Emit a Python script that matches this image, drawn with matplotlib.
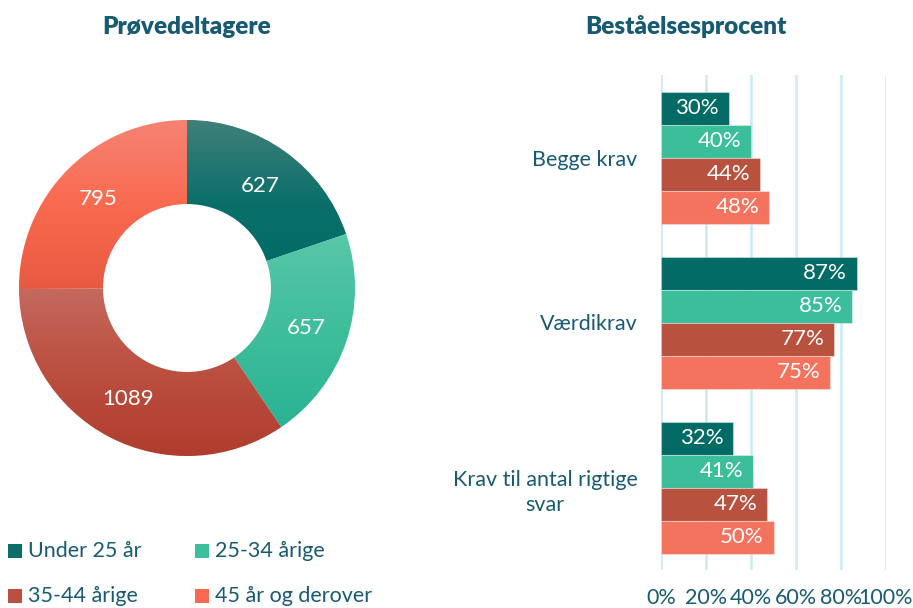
import numpy as np
import matplotlib
matplotlib.use("Agg")
import matplotlib.pyplot as plt
from matplotlib.colors import LinearSegmentedColormap
from matplotlib.patches import Rectangle

plt.rcParams['font.family'] = ['Lato', 'DejaVu Sans']

# ---- data ----
age_groups = ['Under 25 år', '25-34 årige', '35-44 årige', '45 år og derover']
participants = [627, 657, 1089, 795]
requirements = ['Begge krav', 'Værdikrav', 'Krav til antal rigtige\nsvar']
rate_under25 = [30, 87, 32]
rate_25_34 = [40, 85, 41]
rate_35_44 = [44, 77, 47]
rate_45plus = [48, 75, 50]
x_ticks = [0, 20, 40, 60, 80, 100]
x_tick_labels = ['0%', '20%', '40%', '60%', '80%', '100%']

# ---- styles ----
TXT = '#175a72'
grad_stops = [
    ['#417f7a', '#0a6f69', '#006a65'],
    ['#58c7a8', '#3fbe9c', '#2ab394'],
    ['#c5695e', '#bb4f40', '#b03d2e'],
    ['#f58373', '#fa6a50', '#e85941'],
]
bar_colors = ['#026b65', '#3dbe9a', '#b9513f', '#f4735e']

W, H = 913, 608
fig = plt.figure(figsize=(W / 100, H / 100), dpi=100)

# ---- donut ----
cx, cy, R = 187, 288, 168
half = 178
axp = fig.add_axes([(cx - half) / W, (H - cy - half) / H, 2 * half / W, 2 * half / H])
lim = half / R
axp.axis('off')
wedges, _ = axp.pie(participants, radius=1, startangle=90, counterclock=False,
                    colors=[g[1] for g in grad_stops],
                    wedgeprops=dict(width=0.5, edgecolor='white', linewidth=0.6))
grad = np.linspace(0, 1, 256).reshape(-1, 1)
for w, stops, val in zip(wedges, grad_stops, participants):
    v = w.get_path().vertices
    x0, x1 = v[:, 0].min(), v[:, 0].max()
    y0, y1 = v[:, 1].min(), v[:, 1].max()
    cmap = LinearSegmentedColormap.from_list('g', stops)
    im = axp.imshow(grad, cmap=cmap, extent=[x0, x1, y0, y1], origin='upper',
                    aspect='auto', zorder=w.get_zorder() + 0.1, interpolation='bilinear')
    im.set_clip_path(w)
    mid = np.deg2rad((w.theta1 + w.theta2) / 2)
    axp.text(0.75 * np.cos(mid), 0.75 * np.sin(mid), f'{val}', color='white',
             fontsize=16, ha='center', va='center', zorder=5)
axp.set_xlim(-lim, lim)
axp.set_ylim(-lim, lim)

fig.text(187 / W, 1 - 27 / H, 'Prøvedeltagere', ha='center', va='center',
         fontsize=17.5, fontweight='heavy', color=TXT)

# ---- legend ----
leg_pos = [(8, 551), (195, 551), (8, 596), (195, 596)]
for (lx, ly), lab, stops in zip(leg_pos, age_groups, grad_stops):
    fig.patches.append(Rectangle((lx / W, 1 - (ly + 7) / H), 14 / W, 14 / H,
                                 transform=fig.transFigure, facecolor=stops[1],
                                 edgecolor='none'))
    fig.text((lx + 20) / W, 1 - ly / H, lab, ha='left', va='center',
             fontsize=15.5, color=TXT)

# ---- bars ----
axb = fig.add_axes([661 / W, 38 / H, 225 / W, 495 / H])
series = [rate_under25, rate_25_34, rate_35_44, rate_45plus]
n_groups = len(requirements)
pitch = len(series) + 1
group_centers = np.arange(n_groups) * pitch + pitch / 2
for j, (vals, col) in enumerate(zip(series, bar_colors)):
    ys = group_centers - 1.5 + j
    bars = axb.barh(ys, vals, height=1.0, color=col, edgecolor=(1, 1, 1, 0.35),
                    linewidth=0.8, zorder=3)
    for b, v in zip(bars, vals):
        axb.annotate(f'{v}%', (b.get_width(), b.get_y() + b.get_height() / 2),
                     xytext=(-7, 0), textcoords='offset points', ha='right',
                     va='center', color='white', fontsize=16, zorder=4)
axb.set_ylim(n_groups * pitch, 0)
axb.set_xlim(0, 100)
axb.set_xticks(x_ticks)
axb.set_xticklabels(x_tick_labels, fontsize=15.5, color=TXT)
axb.set_yticks(group_centers)
axb.set_yticklabels(requirements, fontsize=15.5, color=TXT, multialignment='center',
                    linespacing=1.35)
axb.tick_params(axis='both', length=0)
axb.tick_params(axis='x', pad=13)
axb.tick_params(axis='y', pad=17)
axb.grid(axis='x', color='#c8ebf8', linewidth=1.8, zorder=0)
axb.set_axisbelow(True)
for s in axb.spines.values():
    s.set_visible(False)

fig.text(686 / W, 1 - 27 / H, 'Beståelsesprocent', ha='center', va='center',
         fontsize=17.5, fontweight='heavy', color=TXT)

fig.savefig('out.png', dpi=100)
